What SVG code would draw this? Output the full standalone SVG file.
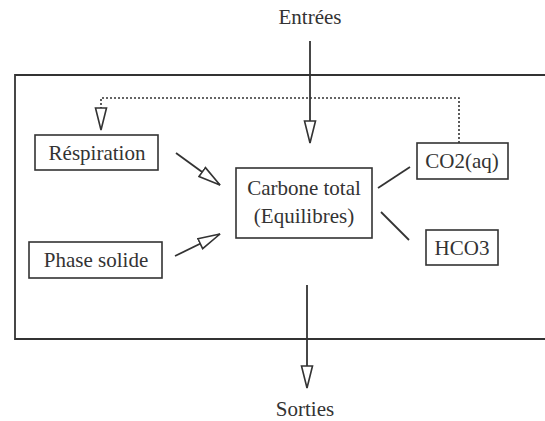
<svg xmlns="http://www.w3.org/2000/svg" width="545" height="421" viewBox="0 0 545 421">
<style>
.box{fill:#fff;stroke:#333;stroke-width:1.6}
.ln{fill:none;stroke:#333;stroke-width:1.8}
.dot{fill:none;stroke:#333;stroke-width:1.6;stroke-dasharray:2 2}
text{font-family:"Liberation Serif","Times New Roman",serif;font-size:21px;fill:#333;text-anchor:middle}
</style>
<defs>
<marker id="open" viewBox="0 0 24 14" refX="23" refY="7" markerWidth="24" markerHeight="14" markerUnits="userSpaceOnUse" orient="auto">
<path d="M1,1.5 L23,7 L1,12.5 Z" fill="#fff" stroke="#333" stroke-width="1.6"/>
</marker>
</defs>
<rect width="545" height="421" fill="#fff"/>
<g id="frame">
<path class="ln" d="M545,75 H15 V339 H545"/>
</g>
<g id="connectors">
<line class="ln" x1="310" y1="41" x2="310" y2="143" marker-end="url(#open)"/>
<path class="dot" d="M459,143 V98 H101 V130" marker-end="url(#open)"/>
<line class="ln" x1="176" y1="153" x2="220" y2="185" marker-end="url(#open)"/>
<line class="ln" x1="175" y1="256" x2="220" y2="234" marker-end="url(#open)"/>
<line class="ln" x1="378" y1="188" x2="410" y2="167"/>
<line class="ln" x1="381" y1="212" x2="409" y2="240"/>
<line class="ln" x1="307" y1="285" x2="307" y2="388" marker-end="url(#open)"/>
</g>
<g id="entrees"><text x="310" y="24">Entrées</text></g>
<g id="sorties"><text x="305" y="416">Sorties</text></g>
<g id="respiration">
<rect class="box" x="35" y="135" width="123" height="35"/>
<text x="97" y="160">Réspiration</text>
</g>
<g id="carbone">
<rect class="box" x="236" y="168" width="136" height="70"/>
<text x="304" y="195">Carbone total</text>
<text x="304" y="223">(Equilibres)</text>
</g>
<g id="co2">
<rect class="box" x="417" y="143" width="91" height="36"/>
<text x="462" y="168">CO2(aq)</text>
</g>
<g id="phase">
<rect class="box" x="29" y="242" width="133" height="36"/>
<text x="96" y="267">Phase solide</text>
</g>
<g id="hco3">
<rect class="box" x="426" y="230" width="72" height="35"/>
<text x="462" y="255">HCO3</text>
</g>
</svg>
